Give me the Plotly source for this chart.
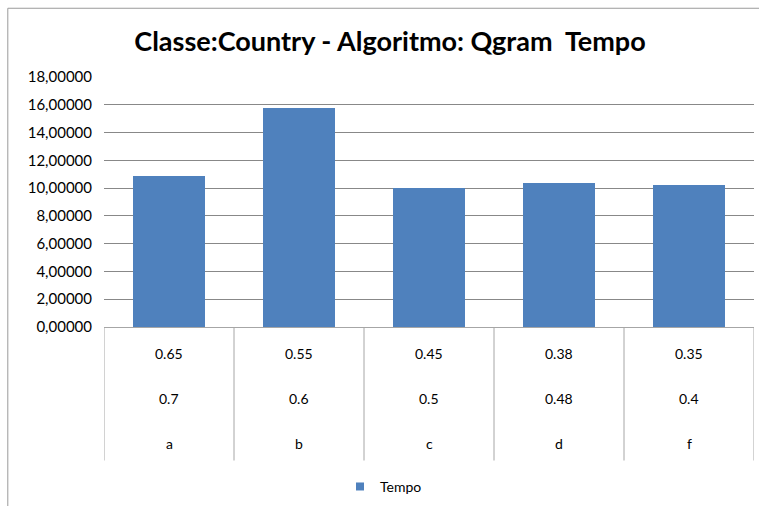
import plotly.graph_objects as go

categories = ["a", "b", "c", "d", "f"]
level2 = ["0.7", "0.6", "0.5", "0.48", "0.4"]
level1 = ["0.65", "0.55", "0.45", "0.38", "0.35"]
tempo = [10.86, 15.75, 9.98, 10.34, 10.22]
y_ticks = [0, 2, 4, 6, 8, 10, 12, 14, 16, 18]
y_tick_labels = ["0,00000", "2,00000", "4,00000", "6,00000", "8,00000", "10,00000",
                 "12,00000", "14,00000", "16,00000", "18,00000"]

FONT = "Lato"
GRID = "#888888"
TABLE = "#a6a6a6"

xs = [i + 0.5 for i in range(len(categories))]

fig = go.Figure()
fig.add_trace(go.Bar(x=xs, y=tempo, width=0.56, name="Tempo", showlegend=False,
                     marker=dict(color="#4F81BD", line=dict(width=0))))
fig.add_trace(go.Scatter(x=[None], y=[None], mode="markers", name="Tempo",
                         marker=dict(symbol="square", size=8, color="#4F81BD")))

shapes = []
for i in range(len(categories) + 1):
    shapes.append(dict(type="line", xref="x", yref="paper", x0=i, x1=i, y0=0, y1=-0.534,
                       line=dict(color=TABLE, width=1)))
shapes.append(dict(type="line", xref="paper", yref="paper", x0=-0.148, x1=1.02, y0=1.275, y1=1.275,
                   line=dict(color="#9a9a9a", width=1)))
shapes.append(dict(type="line", xref="paper", yref="paper", x0=-0.148, x1=-0.148, y0=1.275, y1=-0.8,
                   line=dict(color="#9a9a9a", width=1)))

annotations = []
for row, yv in ((level1, -0.1076), (level2, -0.287), (categories, -0.466)):
    for x, lab in zip(xs, row):
        annotations.append(dict(x=x, y=yv, xref="x", yref="paper", text=lab, showarrow=False,
                                font=dict(family=FONT, size=14, color="#000000"),
                                xanchor="center", yanchor="middle"))

fig.update_layout(
    width=759, height=506,
    margin=dict(l=104, r=5, t=77, b=178),
    paper_bgcolor="white", plot_bgcolor="white",
    title=dict(text="<b>Classe:Country - Algoritmo: Qgram  Tempo</b>", x=(390 / 759), xanchor="center",
               y=1 - 42 / 506, yanchor="middle",
               font=dict(family=FONT, size=27, color="#000000")),
    xaxis=dict(range=[0, 5], showticklabels=False, showgrid=False, zeroline=False,
               showline=False, ticks=""),
    yaxis=dict(range=[0, 18], tickvals=y_ticks, ticktext=y_tick_labels,
               showgrid=True, gridcolor=GRID, gridwidth=1, zeroline=True, zerolinecolor=TABLE,
               zerolinewidth=1, showline=False, ticks="", ticklen=0, ticklabelstandoff=11,
               tickfont=dict(family=FONT, size=15, color="#000000")),
    showlegend=True,
    legend=dict(orientation="h", x=0.43, xanchor="center", y=-0.633, yanchor="middle",
                font=dict(family=FONT, size=14, color="#000000")),
    shapes=shapes, annotations=annotations,
    bargap=0,
)

fig.write_html("out.html", config={"displayModeBar": False},
               post_script="document.body.style.margin='0';")
